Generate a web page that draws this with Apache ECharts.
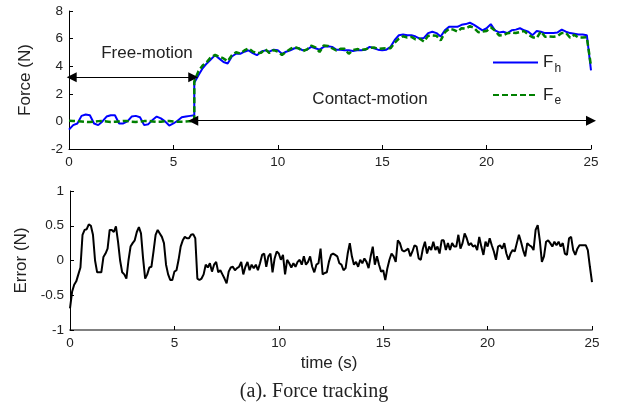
<!DOCTYPE html>
<html>
<head>
<meta charset="utf-8">
<script src="https://cdn.jsdelivr.net/npm/echarts@6/dist/echarts.min.js"></script>
<style>
  html, body { margin: 0; padding: 0; background: #fff; }
  #chart { width: 619px; height: 406px; }
</style>
</head>
<body>
<div id="chart"></div>
<script>
// sampling of the force traces (s)
const freeStart = 0, contactStart = 6.0, forceStep = 0.2
const errStart = 0, errStep = 0.1

// F_h, free motion 0..6 s
const fhFree = [-0.6, -0.27, -0.15, 0.4, 0.5, 0.45, -0.15, -0.27, 0, 0.35,
  0.45, 0.45, -0.15, -0.15, 0, 0.35, 0.4, 0.3, -0.27, -0.2,
  0.1, 0.35, 0.22, 0, -0.3, -0.15, 0.05, 0.3, 0.35, 0.4, 0.45]
// F_e, free motion 0..6 s
const feFree = [0.05, 0.03, 0.02, 0.0, -0.03, -0.05, -0.02, 0.02, 0.04, 0.0,
  -0.04, -0.03, 0.0, 0.03, 0.02, -0.02, -0.04, -0.02, 0.02, 0.03,
  0.0, -0.03, -0.02, 0.02, 0.03, 0.0, -0.02, -0.02, 0.0, 0.02, 0.0]
// F_h, contact motion 6..25 s
const fhContact = [2.8, 3.35, 3.85, 4.2, 4.5, 4.8, 4.55, 4.3, 4.2, 4.7,
  4.9, 4.9, 5.05, 5.15, 4.95, 4.8, 5.05, 5.15, 5.05, 5.2,
  5.15, 4.9, 5.05, 5.15, 5.3, 5.3, 5.15, 5.2, 5.4, 5.3,
  5.2, 5.4, 5.45, 5.4, 5.2, 5.2, 5.15, 5.15, 5.1, 5.15,
  5.15, 5.2, 5.4, 5.3, 5.2, 5.15, 5.2, 5.4, 5.9, 6.25,
  6.3, 6.25, 6.25, 6.15, 6.0, 6.05, 6.4, 6.5, 6.4, 6.15,
  6.6, 6.85, 6.85, 6.85, 7.0, 7.05, 7.15, 7.0, 6.8, 6.6,
  6.75, 7.05, 6.6, 6.45, 6.5, 6.4, 6.6, 6.65, 6.75, 6.6,
  6.5, 6.25, 6.55, 6.5, 6.4, 6.4, 6.4, 6.45, 6.65, 6.5,
  6.4, 6.35, 6.3, 6.3, 6.25, 3.7]
// F_e, contact motion 6..25 s
const feContact = [2.9, 3.63, 4.05, 4.3, 4.66, 4.82, 4.69, 4.56, 4.36, 4.79,
  5.01, 4.92, 5.14, 5.29, 5.06, 4.94, 4.97, 5.24, 4.95, 5.17,
  5.05, 4.82, 5.04, 5.25, 5.39, 5.29, 5.09, 5.22, 5.49, 5.36,
  5.03, 5.5, 5.47, 5.3, 5.14, 5.26, 5.26, 4.9, 5.16, 5.24,
  5.19, 5.22, 5.34, 5.36, 5.26, 5.29, 5.31, 5.3, 5.7, 6.0,
  6.17, 6.08, 6.12, 5.95, 5.99, 5.78, 6.2, 6.23, 6.2, 5.86,
  6.45, 6.7, 6.65, 6.5, 6.75, 6.73, 6.9, 6.78, 6.46, 6.52,
  6.55, 6.83, 6.59, 6.23, 6.25, 6.39, 6.45, 6.4, 6.48, 6.54,
  6.28, 6.1, 6.04, 6.52, 6.13, 6.15, 6.13, 6.18, 6.4, 6.42,
  6.06, 6.27, 6.08, 6.08, 6.1, 4.0]
// tracking error, 0..25 s every 0.1 s
const errVals = [-0.69, -0.45, -0.35, -0.3, -0.2, -0.1, 0.37, 0.44, 0.45, 0.52,
  0.5, 0.37, 0, -0.17, -0.17, -0.17, 0.05, 0.1, 0.17, 0.44,
  0.44, 0.41, 0.49, 0.27, 0, -0.17, -0.2, -0.26, 0, 0.2,
  0.25, 0.29, 0.41, 0.48, 0.39, 0.03, -0.26, -0.2, -0.1, -0.09,
  0.13, 0.37, 0.44, 0.39, 0.34, 0.25, -0.06, -0.2, -0.28, -0.28,
  -0.16, -0.14, 0.01, 0.2, 0.29, 0.34, 0.32, 0.32, 0.37, 0.38,
  0.32, -0.26, -0.28, -0.26, -0.2, -0.06, -0.1, -0.04, -0.16, -0.06,
  -0.02, -0.17, -0.14, -0.2, -0.26, -0.33, -0.16, -0.1, -0.09, -0.14,
  -0.11, -0.09, -0.02, -0.2, -0.09, -0.02, -0.14, -0.06, -0.11, -0.06,
  -0.14, -0.04, 0.08, 0.1, -0.09, 0.06, 0.1, -0.17, 0.03, 0.13,
  0.1, 0.01, 0.08, -0.2, 0.01, -0.04, -0.1, -0.04, -0.09, -0.02,
  0.01, -0.06, 0.06, -0.06, -0.02, 0.06, -0.09, -0.17, -0.06, -0.04,
  0.17, -0.2, -0.18, -0.17, -0.02, 0.08, 0.1, 0.08, 0.06, -0.04,
  -0.06, -0.14, -0.11, 0.1, 0.25, 0.06, -0.06, -0.02, -0.09, 0.01,
  -0.04, 0.03, -0.02, -0.11, 0.06, 0.2, -0.06, 0.06, -0.06, -0.16,
  -0.14, -0.28, -0.11, 0.01, 0.1, 0.06, -0.02, 0.29, 0.25, 0.15,
  0.13, 0.15, 0.17, 0.06, 0.13, 0.22, 0.2, 0.03, 0.01, 0.17,
  0.27, 0.1, 0.2, 0.15, 0.27, 0.15, 0.2, 0.1, 0.29, 0.29,
  0.15, 0.25, 0.15, 0.25, 0.2, 0.2, 0.37, 0.17, 0.25, 0.39,
  0.32, 0.22, 0.25, 0.2, 0.22, 0.15, 0.34, 0.2, 0.08, 0.27,
  0.2, 0.32, 0.22, 0.13, 0.01, 0.2, 0.22, 0.17, 0.25, 0.1,
  0.01, 0.1, 0.15, 0.13, 0.25, 0.37, 0.27, 0.15, 0.06, 0.25,
  0.22, 0.2, 0.15, 0.44, 0.51, 0.29, -0.02, 0.06, 0.27, 0.29,
  0.25, 0.2, 0.27, 0.22, 0.27, 0.2, 0.25, 0.1, 0.08, 0.32,
  0.34, 0.15, 0.08, 0.17, 0.22, 0.22, 0.22, 0.22, 0.15, -0.09,
  -0.31]

const timeTicks = [0, 5, 10, 15, 20, 25]
const forceTicks = [-2, 0, 2, 4, 6, 8]
const errTicks = [-1, -0.5, 0, 0.5, 1]

// pair sample values with their times
const withTime = (vals, start, step) =>
  vals.map((v, i) => [Math.round((start + i * step) * 100) / 100, v])

const fhData = withTime(fhFree, freeStart, forceStep).concat(withTime(fhContact, contactStart, forceStep))
const feData = withTime(feFree, freeStart, forceStep).concat(withTime(feContact, contactStart, forceStep))
const errData = withTime(errVals, errStart, errStep)

const font = 'Liberation Sans, Arial, sans-serif'
const txt = '#222'

const chart = echarts.init(document.getElementById('chart'), null, {renderer: 'canvas'})

const xAxisBase = (gridIndex, lineColor, lineWidth) => ({
  type: 'value',
  gridIndex: gridIndex,
  min: timeTicks[0],
  max: timeTicks[timeTicks.length - 1],
  interval: 5,
  axisLine: {onZero: false, lineStyle: {color: lineColor, width: lineWidth}},
  axisTick: {inside: true, length: 4, lineStyle: {color: '#000'}},
  axisLabel: {color: txt, fontSize: 13.5, fontFamily: font, margin: 6},
  splitLine: {show: false}
})

const yAxisBase = (gridIndex, ticks, interval, name) => ({
  type: 'value',
  gridIndex: gridIndex,
  min: ticks[0],
  max: ticks[ticks.length - 1],
  interval: interval,
  name: name,
  nameLocation: 'middle',
  nameGap: 35,
  nameTextStyle: {color: txt, fontSize: 17, fontFamily: font},
  axisLine: {show: true, onZero: false, lineStyle: {color: '#000', width: 1}},
  axisTick: {show: true, inside: true, length: 4, lineStyle: {color: '#000'}},
  axisLabel: {color: txt, fontSize: 13.5, fontFamily: font, margin: 6},
  splitLine: {show: false}
})

const option = {
  animation: false,
  backgroundColor: '#fff',
  grid: [
    {left: 69, top: 11, width: 522, height: 138},
    {left: 70, top: 191, width: 522, height: 139}
  ],
  xAxis: [xAxisBase(0, '#000', 1), xAxisBase(1, '#808080', 2)],
  yAxis: [
    yAxisBase(0, forceTicks, 2, 'Force (N)'),
    yAxisBase(1, errTicks, 0.5, 'Error (N)')
  ],
  legend: {
    data: ['F_h', 'F_e'],
    orient: 'vertical',
    left: 487,
    top: 49,
    itemWidth: 45,
    itemHeight: 12,
    itemGap: 12,
    itemStyle: {color: 'rgba(0,0,0,0)', borderWidth: 0},
    formatter: name => '{m|F}{s|' + name.split('_')[1] + '}',
    textStyle: {
      rich: {
        m: {fontSize: 17, color: txt, fontFamily: font},
        s: {fontSize: 12, color: txt, fontFamily: font, padding: [12, 0, 0, 1]}
      }
    }
  },
  series: [
    {
      name: 'F_h',
      type: 'line',
      xAxisIndex: 0,
      yAxisIndex: 0,
      data: fhData,
      symbol: 'none',
      lineStyle: {color: '#0000ff', width: 2},
      itemStyle: {color: '#0000ff'}
    },
    {
      name: 'F_e',
      type: 'line',
      xAxisIndex: 0,
      yAxisIndex: 0,
      data: feData,
      symbol: 'none',
      clip: false,
      lineStyle: {color: '#008000', width: 2.5, type: [6, 3]},
      itemStyle: {color: '#008000'},
      markLine: {
        silent: true,
        symbol: ['triangle', 'triangle'],
        symbolSize: 10,
        label: {show: false},
        lineStyle: {color: '#000', width: 1.2, type: 'solid'},
        data: [
          [{coord: [0.13, 3.2]}, {coord: [5.95, 3.2]}],
          [{coord: [5.95, 0.05]}, {coord: [25, 0.05]}]
        ]
      }
    },
    {
      name: 'Error',
      type: 'line',
      xAxisIndex: 1,
      yAxisIndex: 1,
      data: errData,
      symbol: 'none',
      lineStyle: {color: '#000', width: 2},
      itemStyle: {color: '#000'}
    }
  ],
  graphic: [
    {type: 'text', x: 147, y: 53, style: {text: 'Free-motion', fill: txt, font: '17px ' + font, textAlign: 'center', textVerticalAlign: 'middle'}},
    {type: 'text', x: 370, y: 99, style: {text: 'Contact-motion', fill: txt, font: '17px ' + font, textAlign: 'center', textVerticalAlign: 'middle'}},
    {type: 'text', x: 329, y: 363, style: {text: 'time (s)', fill: txt, font: '17px ' + font, textAlign: 'center', textVerticalAlign: 'middle'}},
    {type: 'text', x: 314, y: 392, style: {text: '(a). Force tracking', fill: txt, font: '20px Liberation Serif, Times New Roman, serif', textAlign: 'center', textVerticalAlign: 'middle'}}
  ]
}

chart.setOption(option)
window.addEventListener('resize', () => chart.resize())
</script>
</body>
</html>
